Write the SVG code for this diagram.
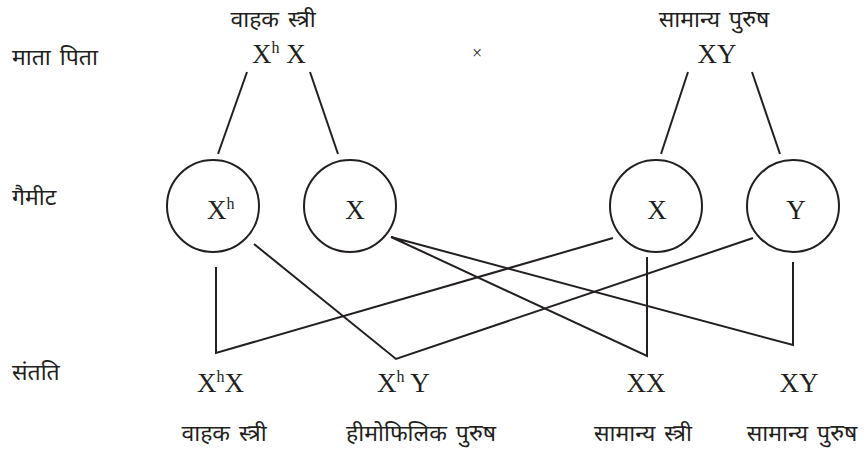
<svg xmlns="http://www.w3.org/2000/svg" width="866" height="453" viewBox="0 0 866 453">
<style>
.l{stroke:#231f20;stroke-width:2;fill:none}
.c{stroke:#231f20;stroke-width:2;fill:#fff}
.hi{font-family:"Noto Sans","Noto Sans Devanagari","Lohit Devanagari",sans-serif;font-size:23px;fill:#231f20;word-spacing:3px}
.g{font-family:"Liberation Serif",serif;font-size:27px;fill:#231f20}
.s{font-size:16px}
</style>
<rect width="866" height="453" fill="#fff"/>
<g id="row-labels">
<text class="hi" x="12" y="65">माता पिता</text>
<text class="hi" x="12" y="205">गैमीट</text>
<text class="hi" x="12" y="380">संतति</text>
</g>
<g id="parent-female">
<text class="hi" x="273" y="27" text-anchor="middle">वाहक स्त्री</text>
<text class="g" x="252" y="63">X<tspan class="s" dy="-10">h</tspan><tspan dy="10"> X</tspan></text>
</g>
<g id="cross"><text class="g" x="477" y="59" text-anchor="middle" style="font-size:18px">×</text></g>
<g id="parent-male">
<text class="hi" x="714" y="27" text-anchor="middle">सामान्य पुरुष</text>
<text class="g" x="717" y="63" text-anchor="middle">XY</text>
</g>
<g id="connectors">
<line class="l" x1="247" y1="72" x2="218" y2="154"/>
<line class="l" x1="310" y1="72" x2="338" y2="154"/>
<line class="l" x1="688" y1="72" x2="661" y2="154"/>
<line class="l" x1="752" y1="72" x2="780" y2="154"/>
<polyline class="l" points="216,267 216,353 613,238"/>
<polyline class="l" points="254,244 396,359 753,238"/>
<polyline class="l" points="647,257 647,356 391,237 793,345 793,262"/>
</g>
<g id="gamete-Xh">
<circle class="c" cx="213" cy="206" r="46"/>
<text class="g" x="207" y="219">X<tspan class="s" dy="-10">h</tspan></text>
</g>
<g id="gamete-X1">
<circle class="c" cx="350" cy="206" r="46"/>
<text class="g" x="355" y="219" text-anchor="middle">X</text>
</g>
<g id="gamete-X2">
<circle class="c" cx="656" cy="206" r="46"/>
<text class="g" x="657" y="219" text-anchor="middle">X</text>
</g>
<g id="gamete-Y">
<circle class="c" cx="793" cy="206" r="46"/>
<text class="g" x="796" y="219" text-anchor="middle">Y</text>
</g>
<g id="child-XhX">
<text class="g" x="197" y="392">X<tspan class="s" dy="-10">h</tspan><tspan dy="10">X</tspan></text>
<text class="hi" x="224" y="441" text-anchor="middle">वाहक स्त्री</text>
</g>
<g id="child-XhY">
<text class="g" x="377" y="392">X<tspan class="s" dy="-10">h</tspan><tspan dy="10"> Y</tspan></text>
<text class="hi" x="421" y="441" text-anchor="middle">हीमोफिलिक पुरुष</text>
</g>
<g id="child-XX">
<text class="g" x="646" y="392" text-anchor="middle">XX</text>
<text class="hi" x="643" y="441" text-anchor="middle">सामान्य स्त्री</text>
</g>
<g id="child-XY">
<text class="g" x="799" y="392" text-anchor="middle">XY</text>
<text class="hi" x="802" y="441" text-anchor="middle">सामान्य पुरुष</text>
</g>
</svg>
